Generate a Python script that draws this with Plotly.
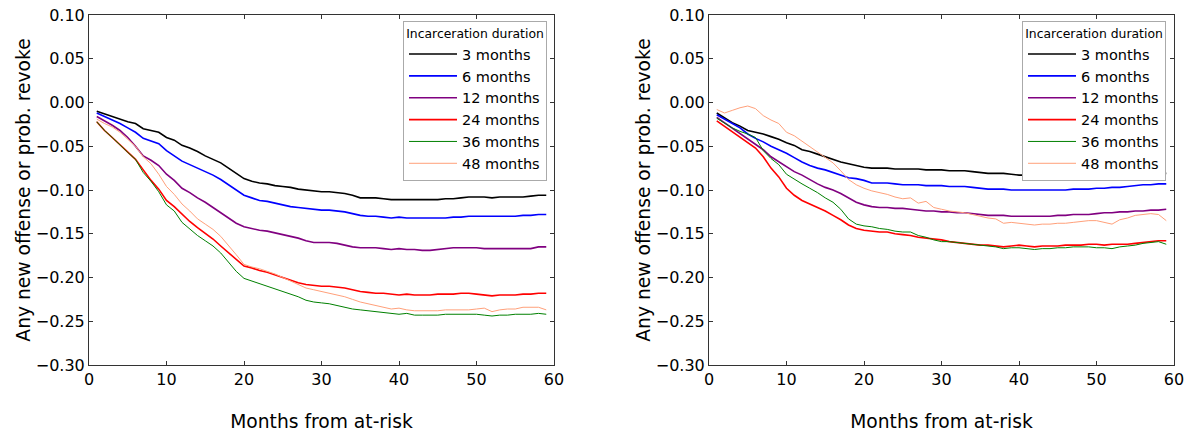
import plotly.graph_objects as go

months = list(range(1, 60))
durations = ["3 months", "6 months", "12 months", "24 months", "36 months", "48 months"]
colors = ["#000000", "#0000ff", "#800080", "#ff0000", "#008000", "#ffa07a"]
widths = [1.6, 1.6, 1.6, 1.6, 1.0, 1.0]

# Left panel
left_3 = [-0.010,-0.013,-0.016,-0.019,-0.022,-0.024,-0.030,-0.032,-0.034,-0.040,
          -0.043,-0.049,-0.052,-0.056,-0.061,-0.065,-0.069,-0.075,-0.081,-0.087,
          -0.090,-0.092,-0.093,-0.095,-0.096,-0.097,-0.099,-0.100,-0.101,-0.102,
          -0.102,-0.103,-0.104,-0.106,-0.109,-0.109,-0.109,-0.110,-0.111,-0.111,
          -0.111,-0.111,-0.111,-0.111,-0.111,-0.110,-0.110,-0.109,-0.108,-0.108,
          -0.108,-0.109,-0.108,-0.108,-0.108,-0.108,-0.107,-0.106,-0.106]
left_6 = [-0.012,-0.016,-0.020,-0.024,-0.029,-0.034,-0.041,-0.044,-0.047,-0.055,
          -0.061,-0.067,-0.071,-0.075,-0.079,-0.083,-0.088,-0.094,-0.100,-0.106,
          -0.109,-0.112,-0.113,-0.115,-0.117,-0.119,-0.120,-0.121,-0.122,-0.123,
          -0.123,-0.124,-0.125,-0.127,-0.129,-0.130,-0.130,-0.131,-0.132,-0.131,
          -0.132,-0.132,-0.132,-0.132,-0.132,-0.132,-0.131,-0.131,-0.130,-0.130,
          -0.130,-0.130,-0.130,-0.130,-0.130,-0.129,-0.129,-0.128,-0.128]
left_12 = [-0.016,-0.021,-0.026,-0.032,-0.040,-0.050,-0.061,-0.066,-0.072,-0.082,
           -0.089,-0.098,-0.103,-0.109,-0.114,-0.120,-0.126,-0.133,-0.138,-0.142,
           -0.144,-0.146,-0.147,-0.149,-0.151,-0.153,-0.155,-0.158,-0.160,-0.160,
           -0.160,-0.161,-0.163,-0.165,-0.166,-0.166,-0.166,-0.167,-0.168,-0.167,
           -0.168,-0.168,-0.169,-0.169,-0.168,-0.167,-0.166,-0.166,-0.166,-0.166,
           -0.167,-0.167,-0.167,-0.167,-0.167,-0.167,-0.167,-0.165,-0.165]
left_24 = [-0.022,-0.032,-0.040,-0.048,-0.056,-0.065,-0.077,-0.089,-0.099,-0.112,
           -0.119,-0.128,-0.136,-0.143,-0.149,-0.156,-0.164,-0.172,-0.180,-0.187,
           -0.189,-0.192,-0.194,-0.197,-0.200,-0.203,-0.206,-0.208,-0.209,-0.210,
           -0.210,-0.211,-0.212,-0.214,-0.216,-0.217,-0.218,-0.218,-0.219,-0.220,
           -0.219,-0.220,-0.220,-0.220,-0.219,-0.219,-0.219,-0.218,-0.218,-0.219,
           -0.220,-0.221,-0.220,-0.220,-0.220,-0.219,-0.219,-0.218,-0.218]
left_36 = [-0.022,-0.032,-0.040,-0.049,-0.057,-0.065,-0.080,-0.090,-0.102,-0.117,
           -0.124,-0.137,-0.145,-0.152,-0.158,-0.164,-0.172,-0.183,-0.193,-0.201,
           -0.204,-0.207,-0.210,-0.213,-0.216,-0.219,-0.222,-0.226,-0.228,-0.229,
           -0.230,-0.232,-0.234,-0.236,-0.237,-0.238,-0.239,-0.240,-0.241,-0.242,
           -0.241,-0.243,-0.243,-0.243,-0.243,-0.242,-0.242,-0.242,-0.242,-0.242,
           -0.243,-0.244,-0.243,-0.243,-0.242,-0.242,-0.242,-0.241,-0.242]
left_48 = [-0.019,-0.024,-0.028,-0.034,-0.042,-0.050,-0.062,-0.070,-0.082,-0.096,
           -0.105,-0.116,-0.124,-0.133,-0.139,-0.145,-0.153,-0.163,-0.174,-0.185,
           -0.188,-0.190,-0.193,-0.196,-0.200,-0.204,-0.208,-0.212,-0.214,-0.216,
           -0.218,-0.220,-0.222,-0.225,-0.228,-0.230,-0.232,-0.234,-0.236,-0.235,
           -0.237,-0.238,-0.238,-0.238,-0.238,-0.237,-0.237,-0.237,-0.237,-0.236,
           -0.235,-0.239,-0.237,-0.236,-0.236,-0.234,-0.234,-0.234,-0.237]

# Right panel
right_3 = [-0.012,-0.018,-0.023,-0.027,-0.032,-0.034,-0.036,-0.039,-0.042,-0.046,
           -0.049,-0.054,-0.056,-0.059,-0.062,-0.065,-0.068,-0.070,-0.072,-0.074,
           -0.075,-0.075,-0.075,-0.076,-0.076,-0.076,-0.076,-0.077,-0.077,-0.077,
           -0.078,-0.078,-0.078,-0.079,-0.080,-0.081,-0.081,-0.081,-0.082,-0.083,
           -0.083,-0.083,-0.083,-0.083,-0.083,-0.083,-0.083,-0.082,-0.082,-0.082,
           -0.082,-0.082,-0.082,-0.082,-0.082,-0.082,-0.082,-0.081,-0.081]
right_6 = [-0.014,-0.019,-0.024,-0.029,-0.036,-0.041,-0.045,-0.050,-0.054,-0.058,
           -0.063,-0.068,-0.072,-0.075,-0.077,-0.080,-0.083,-0.086,-0.087,-0.089,
           -0.092,-0.092,-0.092,-0.093,-0.094,-0.094,-0.094,-0.095,-0.095,-0.095,
           -0.096,-0.096,-0.096,-0.097,-0.098,-0.099,-0.099,-0.099,-0.100,-0.100,
           -0.100,-0.100,-0.100,-0.100,-0.100,-0.100,-0.099,-0.099,-0.099,-0.098,
           -0.098,-0.097,-0.097,-0.096,-0.095,-0.094,-0.094,-0.093,-0.093]
right_12 = [-0.017,-0.023,-0.029,-0.035,-0.042,-0.048,-0.054,-0.062,-0.068,-0.074,
            -0.079,-0.083,-0.088,-0.093,-0.097,-0.100,-0.104,-0.109,-0.114,-0.117,
            -0.119,-0.120,-0.120,-0.121,-0.121,-0.122,-0.123,-0.124,-0.124,-0.125,
            -0.125,-0.126,-0.126,-0.127,-0.128,-0.129,-0.129,-0.129,-0.130,-0.130,
            -0.130,-0.130,-0.130,-0.130,-0.129,-0.129,-0.128,-0.128,-0.128,-0.127,
            -0.126,-0.126,-0.125,-0.125,-0.124,-0.124,-0.123,-0.123,-0.122]
right_24 = [-0.021,-0.027,-0.033,-0.039,-0.046,-0.052,-0.062,-0.075,-0.085,-0.098,
            -0.106,-0.112,-0.116,-0.120,-0.124,-0.129,-0.134,-0.140,-0.144,-0.146,
            -0.147,-0.148,-0.148,-0.150,-0.151,-0.152,-0.154,-0.155,-0.156,-0.157,
            -0.159,-0.160,-0.161,-0.162,-0.163,-0.163,-0.164,-0.165,-0.164,-0.163,
            -0.164,-0.165,-0.164,-0.164,-0.164,-0.163,-0.163,-0.163,-0.162,-0.162,
            -0.163,-0.162,-0.162,-0.162,-0.161,-0.160,-0.159,-0.158,-0.158]
right_36 = [-0.018,-0.024,-0.029,-0.033,-0.036,-0.040,-0.055,-0.064,-0.071,-0.082,
            -0.088,-0.093,-0.098,-0.103,-0.109,-0.114,-0.122,-0.133,-0.139,-0.141,
            -0.142,-0.144,-0.145,-0.147,-0.148,-0.148,-0.152,-0.154,-0.157,-0.159,
            -0.159,-0.160,-0.161,-0.162,-0.163,-0.164,-0.165,-0.167,-0.166,-0.166,
            -0.167,-0.168,-0.167,-0.167,-0.166,-0.166,-0.165,-0.165,-0.165,-0.166,
            -0.166,-0.167,-0.165,-0.164,-0.163,-0.161,-0.160,-0.159,-0.162]
right_48 = [-0.008,-0.012,-0.009,-0.006,-0.004,-0.007,-0.015,-0.020,-0.024,-0.034,
            -0.038,-0.044,-0.050,-0.056,-0.062,-0.069,-0.078,-0.088,-0.094,-0.098,
            -0.101,-0.103,-0.105,-0.108,-0.110,-0.109,-0.115,-0.113,-0.120,-0.122,
            -0.124,-0.125,-0.126,-0.128,-0.130,-0.132,-0.133,-0.138,-0.137,-0.138,
            -0.139,-0.140,-0.139,-0.139,-0.138,-0.138,-0.137,-0.136,-0.135,-0.135,
            -0.137,-0.139,-0.134,-0.132,-0.129,-0.128,-0.127,-0.128,-0.135]

left_series = [left_3, left_6, left_12, left_24, left_36, left_48]
right_series = [right_3, right_6, right_12, right_24, right_36, right_48]

x_ticks = [0, 10, 20, 30, 40, 50, 60]
y_ticks = [0.10, 0.05, 0.00, -0.05, -0.10, -0.15, -0.20, -0.25, -0.30]
y_ticktext = [("\u2212%.2f" % -v) if v < 0 else "%.2f" % v for v in y_ticks]

FONT = "DejaVu Sans"
W, H = 1190, 433

fig = go.Figure()
for vals, name, col, w in zip(left_series, durations, colors, widths):
    fig.add_trace(go.Scatter(x=months, y=vals, mode="lines", name=name,
                             line=dict(color=col, width=w), xaxis="x", yaxis="y",
                             legend="legend", legendgroup="L" + name))
for vals, name, col, w in zip(right_series, durations, colors, widths):
    fig.add_trace(go.Scatter(x=months, y=vals, mode="lines", name=name,
                             line=dict(color=col, width=w), xaxis="x2", yaxis="y2",
                             legend="legend2", legendgroup="R" + name))

ydom = [1 - 365 / H, 1 - 15 / H]
axis_common = dict(showline=True, linecolor="#333", linewidth=1, mirror="ticks",
                   ticks="inside", ticklen=4, tickcolor="#333", showgrid=False,
                   zeroline=False, tickfont=dict(family=FONT, size=16, color="black"),
                   automargin=False)

xcommon = dict(axis_common, range=[0, 60], tickvals=x_ticks,
               title=dict(text="Months from at-risk", font=dict(family=FONT, size=18.7, color="black"),
                          standoff=26))
ycommon = dict(axis_common, range=[-0.30, 0.10], tickvals=y_ticks, ticktext=y_ticktext,
               domain=ydom,
               title=dict(text="Any new offense or prob. revoke",
                          font=dict(family=FONT, size=18.7, color="black"), standoff=0))

legend_common = dict(bgcolor="white", bordercolor="#aaaaaa", borderwidth=1,
                     font=dict(family=FONT, size=14.5, color="black"),
                     title=dict(text="Incarceration duration", side="top center",
                                font=dict(family=FONT, size=12.4, color="black")),
                     xanchor="right", yanchor="top", y=1 - 21 / H,
                     tracegroupgap=0, itemwidth=48)

fig.update_layout(
    width=W, height=H,
    margin=dict(l=0, r=0, t=0, b=0),
    paper_bgcolor="white", plot_bgcolor="white",
    font=dict(family=FONT, size=14, color="black"),
    showlegend=True,
    xaxis=dict(xcommon, domain=[89 / W, 554 / W], anchor="y"),
    yaxis=dict(ycommon, anchor="x"),
    xaxis2=dict(xcommon, domain=[709 / W, 1174 / W], anchor="y2"),
    yaxis2=dict(ycommon, anchor="x2"),
    legend=dict(legend_common, x=547 / W),
    legend2=dict(legend_common, x=1166 / W),
)

fig.write_html("out.html")
